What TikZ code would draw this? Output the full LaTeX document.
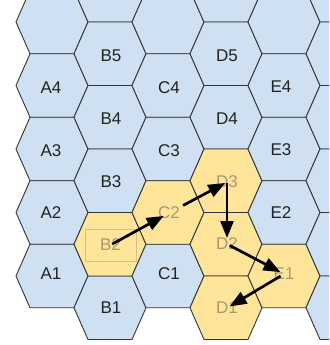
\documentclass[tikz,border=0pt]{standalone}
\usepackage{fontspec}
\setmainfont{Liberation Sans}
\usetikzlibrary{arrows.meta}
\definecolor{hexblue}{HTML}{CFE0F2}
\definecolor{hexyellow}{HTML}{FFE599}
\definecolor{hexline}{HTML}{34373A}
\definecolor{labdark}{HTML}{222222}
\definecolor{labfade}{RGB}{168,152,118}
\definecolor{selbox}{RGB}{214,192,136}
\tikzset{
  hexcell/.style={draw=hexline, line width=0.9pt, line join=round},
  lab/.style={font=\fontsize{17}{20}\selectfont, text=labdark, inner sep=0pt},
  labf/.style={lab, text=labfade},
  mv/.style={line width=2.7pt, -{Triangle[length=17pt,width=13pt]}, black}
}
\newcommand{\hexcellat}[3]{%
  \path[hexcell, fill=#3, shift={(#1,#2)}]
    (-36,0) -- (-22,-31.75) -- (22,-31.75) -- (36,0) -- (22,31.75) -- (-22,31.75) -- cycle;}
\begin{document}
\begin{tikzpicture}[x=1pt,y=-1pt]
\useasboundingbox (0,0) rectangle (329,345);
\fill[white] (0,0) rectangle (329,345);
\begin{scope}
\clip (0,0) rectangle (329,345);
% column A
\foreach \y in {22,85.5,149,212.5,276} {\hexcellat{52}{\y}{hexblue}}
% column B
\foreach \y in {-9.75,53.75,117.25,180.75,307.75} {\hexcellat{110}{\y}{hexblue}}
\hexcellat{110}{244.25}{hexyellow}
% column C
\foreach \y in {22,85.5,149,276} {\hexcellat{168}{\y}{hexblue}}
\hexcellat{168}{212.5}{hexyellow}
% column D
\foreach \y in {-9.75,53.75,117.25} {\hexcellat{226}{\y}{hexblue}}
\foreach \y in {180.75,244.25,307.75} {\hexcellat{226}{\y}{hexyellow}}
% column E
\foreach \y in {22,85.5,149,212.5} {\hexcellat{284}{\y}{hexblue}}
\hexcellat{284}{276}{hexyellow}
% column F
\foreach \y in {-9.75,53.75,117.25,180.75,244.25,307.75} {\hexcellat{342}{\y}{hexblue}}
\end{scope}
% labels
\node[lab] (A4) at (51,88) {A4};
\node[lab] (A3) at (51,151) {A3};
\node[lab] (A2) at (51,213) {A2};
\node[lab] (A1) at (51,274) {A1};
\node[lab] (B5) at (111,56) {B5};
\node[lab] (B4) at (111,119) {B4};
\node[lab] (B3) at (111,182) {B3};
\node[labf, draw=selbox, line width=0.6pt, minimum width=51pt, minimum height=32pt] (B2) at (110.5,245) {B2};
\node[lab] (B1) at (111,308) {B1};
\node[lab] (C4) at (169,88) {C4};
\node[lab] (C3) at (169,151) {C3};
\node[labf] (C2) at (169,213) {C2};
\node[lab] (C1) at (169,274) {C1};
\node[lab] (D5) at (227,56) {D5};
\node[lab] (D4) at (227,119) {D4};
\node[labf] (D3) at (227,182) {D3};
\node[labf] (D2) at (227,244) {D2};
\node[labf] (D1) at (227,308) {D1};
\node[lab] (E4) at (281,87) {E4};
\node[lab] (E3) at (281,150) {E3};
\node[lab] (E2) at (281,213) {E2};
\node[labf] (E1) at (284,274) {E1};
% moves
\draw[mv, shorten <=2pt, shorten >=6pt] (B2.center) -- (C2.center);
\draw[mv, shorten <=16pt, shorten >=2pt] (C2.center) -- (D3.center);
\draw[mv, shorten <=1pt, shorten >=6pt] (D3.center) -- (D2.center);
\draw[mv, shorten <=3pt, shorten >=4pt] (D2.center) -- (E1.center);
\draw[mv, shorten <=4pt, shorten >=3pt] (E1.center) -- (D1.center);
\end{tikzpicture}
\end{document}
